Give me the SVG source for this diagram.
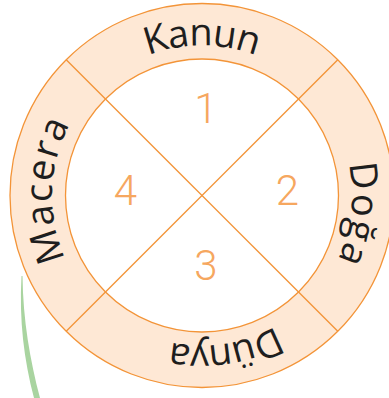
<svg xmlns="http://www.w3.org/2000/svg" width="389" height="398" viewBox="0 0 389 398">
<defs>
<style>
.ring{fill:#FEE8D5;stroke:#F39438;stroke-width:1.3}
.inner{fill:#FFFFFF;stroke:#F39438;stroke-width:1.3}
.div{stroke:#F39438;stroke-width:1.3;fill:none}
.num{font-family:Roboto,"Noto Sans",sans-serif;font-weight:300;font-size:42px;fill:#F6A75F;text-anchor:middle}
.lbl{font-family:"Open Sans","Noto Sans",sans-serif;font-size:38px;fill:#1E1E1E}
</style>
<path id="tp" d="M 95.9 301.6 A 150 150 0 0 1 308.1 89.4 A 150 150 0 0 1 95.9 301.6"/>
</defs>
<g id="ring">
<circle class="ring" cx="202" cy="195.5" r="192"/>
<circle class="inner" cx="202" cy="195.5" r="136.5"/>
</g>
<g id="connectors">
<line class="div" x1="66.2" y1="59.7" x2="337.8" y2="331.3"/>
<line class="div" x1="337.8" y1="59.7" x2="66.2" y2="331.3"/>
<path d="M 21.5 276 C 19 320 24 360 34 398 L 40 398 C 30 360 23 320 22.5 276 Z" fill="#A9D4A0"/>
</g>
<g id="labels">
<text class="lbl" letter-spacing="1.5"><textPath href="#tp" startOffset="123" text-anchor="middle">Macera</textPath></text>
<text class="lbl" letter-spacing="-1"><textPath href="#tp" startOffset="353" text-anchor="middle">Kanun</textPath></text>
<text class="lbl" letter-spacing="2"><textPath href="#tp" startOffset="607" text-anchor="middle">Doğa</textPath></text>
<text class="lbl" letter-spacing="-1.5"><textPath href="#tp" startOffset="801" text-anchor="middle">Dünya</textPath></text>
</g>
<g id="n1"><text class="num" x="206" y="123">1</text></g>
<g id="n2"><text class="num" x="287.5" y="205">2</text></g>
<g id="n3"><text class="num" x="206" y="280">3</text></g>
<g id="n4"><text class="num" x="125.5" y="205">4</text></g>
</svg>
